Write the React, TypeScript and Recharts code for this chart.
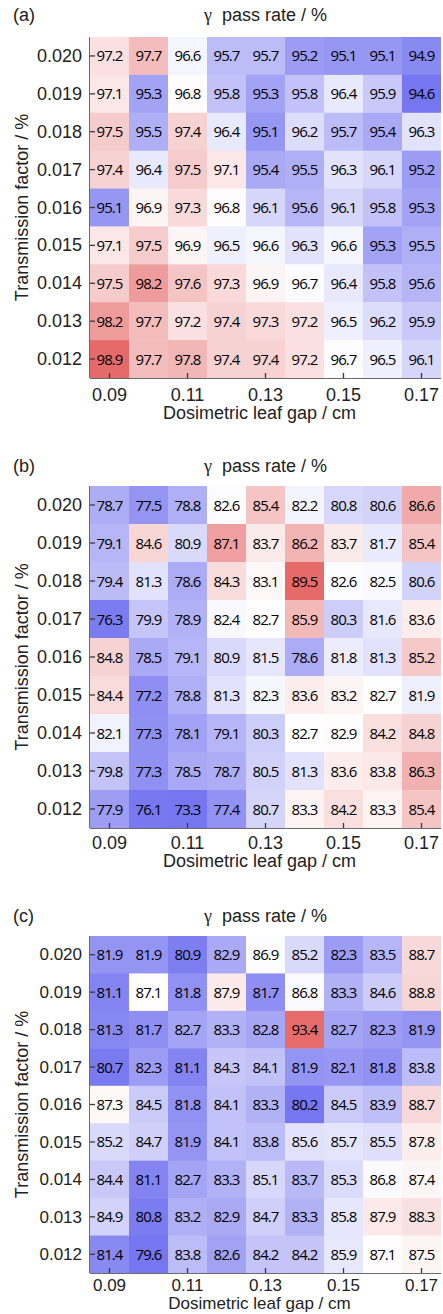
import { ScatterChart, Scatter, XAxis, YAxis } from "recharts";

const leafGap = [0.09, 0.1, 0.11, 0.12, 0.13, 0.14, 0.15, 0.16, 0.17];
const leafGapTicks = [0.09, 0.11, 0.13, 0.15, 0.17];
const transFactor = [0.02, 0.019, 0.018, 0.017, 0.016, 0.015, 0.014, 0.013, 0.012];

// rows: transmission factor 0.020 -> 0.012, columns: leaf gap 0.09 -> 0.17
const passRateA = [
  [97.2, 97.7, 96.6, 95.7, 95.7, 95.2, 95.1, 95.1, 94.9],
  [97.1, 95.3, 96.8, 95.8, 95.3, 95.8, 96.4, 95.9, 94.6],
  [97.5, 95.5, 97.4, 96.4, 95.1, 96.2, 95.7, 95.4, 96.3],
  [97.4, 96.4, 97.5, 97.1, 95.4, 95.5, 96.3, 96.1, 95.2],
  [95.1, 96.9, 97.3, 96.8, 96.1, 95.6, 96.1, 95.8, 95.3],
  [97.1, 97.5, 96.9, 96.5, 96.6, 96.3, 96.6, 95.3, 95.5],
  [97.5, 98.2, 97.6, 97.3, 96.9, 96.7, 96.4, 95.8, 95.6],
  [98.2, 97.7, 97.2, 97.4, 97.3, 97.2, 96.5, 96.2, 95.9],
  [98.9, 97.7, 97.8, 97.4, 97.4, 97.2, 96.7, 96.5, 96.1],
];

const passRateB = [
  [78.7, 77.5, 78.8, 82.6, 85.4, 82.2, 80.8, 80.6, 86.6],
  [79.1, 84.6, 80.9, 87.1, 83.7, 86.2, 83.7, 81.7, 85.4],
  [79.4, 81.3, 78.6, 84.3, 83.1, 89.5, 82.6, 82.5, 80.6],
  [76.3, 79.9, 78.9, 82.4, 82.7, 85.9, 80.3, 81.6, 83.6],
  [84.8, 78.5, 79.1, 80.9, 81.5, 78.6, 81.8, 81.3, 85.2],
  [84.4, 77.2, 78.8, 81.3, 82.3, 83.6, 83.2, 82.7, 81.9],
  [82.1, 77.3, 78.1, 79.1, 80.3, 82.7, 82.9, 84.2, 84.8],
  [79.8, 77.3, 78.5, 78.7, 80.5, 81.3, 83.6, 83.8, 86.3],
  [77.9, 76.1, 73.3, 77.4, 80.7, 83.3, 84.2, 83.3, 85.4],
];

const passRateC = [
  [81.9, 81.9, 80.9, 82.9, 86.9, 85.2, 82.3, 83.5, 88.7],
  [81.1, 87.1, 81.8, 87.9, 81.7, 86.8, 83.3, 84.6, 88.8],
  [81.3, 81.7, 82.7, 83.3, 82.8, 93.4, 82.7, 82.3, 81.9],
  [80.7, 82.3, 81.1, 84.3, 84.1, 81.9, 82.1, 81.8, 83.8],
  [87.3, 84.5, 81.8, 84.1, 83.3, 80.2, 84.5, 83.9, 88.7],
  [85.2, 84.7, 81.9, 84.1, 83.8, 85.6, 85.7, 85.5, 87.8],
  [84.4, 81.1, 82.7, 83.3, 85.1, 83.7, 85.3, 86.8, 87.4],
  [84.9, 80.8, 83.2, 82.9, 84.7, 83.3, 85.8, 87.9, 88.3],
  [81.4, 79.6, 83.8, 82.6, 84.2, 84.2, 85.9, 87.1, 87.5],
];

const W = 443;
const TOP = 37;
const LEFT = 90;
const RIGHT = 2;
const AXIS = "#3a3a3a";
const SANS = "'Liberation Sans', Arial, sans-serif";

const BLUE = [118, 118, 240];
const RED = [230, 106, 106];

function cellColor(v: number, center: number, half: number) {
  let t = (v - center) / half;
  t = Math.max(-1, Math.min(1, t));
  const end = t < 0 ? BLUE : RED;
  const a = Math.abs(t);
  const c = end.map((e) => Math.round(255 + (e - 255) * a));
  return `rgb(${c[0]},${c[1]},${c[2]})`;
}

function toPoints(grid: number[][]) {
  const pts: { x: number; y: number; v: number }[] = [];
  grid.forEach((row, i) =>
    row.forEach((v, j) => pts.push({ x: leafGap[j], y: transFactor[i], v }))
  );
  return pts;
}

const makeYTick = (fs: number) => (props: any) => {
  const { x, y, payload } = props;
  return (
    <g>
      <text
        x={x}
        y={y}
        dy={fs / 3}
        textAnchor="end"
        fontSize={fs}
        fontFamily={SANS}
        fill="#222"
      >
        {payload.value.toFixed(3)}
      </text>
      <line x1={x + 8} x2={x + 13} y1={y} y2={y} stroke={AXIS} strokeWidth={1.3} />
    </g>
  );
};

const makeXTick = (dy: number, fs: number) => (props: any) => {
  const { x, y, payload } = props;
  return (
    <g>
      <text
        x={x}
        y={y}
        dy={dy}
        textAnchor="middle"
        fontSize={fs}
        fontFamily={SANS}
        fill="#222"
      >
        {payload.value.toFixed(2)}
      </text>
      <line x1={x} x2={x} y1={y - 8} y2={y - 13} stroke={AXIS} strokeWidth={1.3} />
    </g>
  );
};

interface PanelProps {
  tag: string;
  grid: number[][];
  center: number;
  half: number;
  plotTop: number;
  plotH: number;
  tickDy: number;
  titleDy: number;
  titleTop: number;
  fs: number;
}

function Panel({
  tag,
  grid,
  center,
  half,
  plotTop,
  plotH,
  tickDy,
  titleDy,
  titleTop,
  fs,
}: PanelProps) {
  const data = toPoints(grid);
  const H = 440;
  const top = plotTop - TOP;
  const cellW = (W - LEFT - RIGHT) / leafGap.length;
  const cellH = plotH / transFactor.length;
  const XTick = makeXTick(tickDy, fs);
  const YTick = makeYTick(fs);
  const Cell = (props: any) => {
    const { cx, cy, payload } = props;
    return (
      <g>
        <rect
          x={cx - cellW / 2}
          y={cy - cellH / 2}
          width={cellW + 0.5}
          height={cellH + 0.5}
          fill={cellColor(payload.v, center, half)}
        />
        <text
          x={cx}
          y={cy}
          dy={5.5}
          textAnchor="middle"
          fontSize={15}
          letterSpacing={-0.9}
          fontFamily="'Open Sans', sans-serif"
          fill="#000"
        >
          {payload.v.toFixed(1)}
        </text>
      </g>
    );
  };

  return (
    <div style={{ position: "absolute", left: 0, top, width: W, height: H }}>
      <div
        style={{
          position: "absolute",
          left: 13,
          top: titleTop,
          fontFamily: SANS,
          fontSize: 18,
          color: "#222",
        }}
      >
        ({tag})
      </div>
      <div
        style={{
          position: "absolute",
          left: LEFT,
          width: W - LEFT - RIGHT,
          top: titleTop,
          textAlign: "center",
          fontFamily: SANS,
          fontSize: 18,
          color: "#222",
          whiteSpace: "pre",
        }}
      >
        <span style={{ fontFamily: "'Liberation Serif', serif" }}>γ</span>
        {"  pass rate / %"}
      </div>
      <ScatterChart
        width={W}
        height={H}
        margin={{ top: TOP, right: RIGHT, bottom: 0, left: 0 }}
      >
        <Scatter data={data} shape={Cell} isAnimationActive={false} />
        <XAxis
          type="number"
          dataKey="x"
          domain={[0.085, 0.175]}
          ticks={leafGapTicks}
          height={H - TOP - plotH}
          tickSize={0}
          tickMargin={8}
          tickLine={false}
          axisLine={{ stroke: AXIS, strokeWidth: 1.5 }}
          tick={<XTick />}
          interval={0}
          allowDataOverflow
          label={{
            content: (p: any) => (
              <text
                x={p.viewBox.x + p.viewBox.width / 2 - 6}
                y={p.viewBox.y + titleDy}
                textAnchor="middle"
                fontSize={fs}
                fontFamily={SANS}
                fill="#222"
              >
                Dosimetric leaf gap / cm
              </text>
            ),
          }}
        />
        <XAxis
          xAxisId="top"
          orientation="top"
          type="number"
          dataKey="x"
          domain={[0.085, 0.175]}
          height={0}
          tick={false}
          tickLine={false}
          axisLine={{ stroke: AXIS, strokeWidth: 1.5 }}
        />
        <YAxis
          type="number"
          dataKey="y"
          domain={[0.0115, 0.0205]}
          ticks={transFactor}
          width={LEFT}
          tickSize={0}
          tickMargin={8}
          tickLine={false}
          axisLine={{ stroke: AXIS, strokeWidth: 1.5 }}
          tick={<YTick />}
          interval={0}
          allowDataOverflow
          label={{
            content: () => {
              const cy = TOP + plotH / 2;
              return (
                <text
                  x={22}
                  y={cy}
                  transform={`rotate(-90 22 ${cy})`}
                  textAnchor="middle"
                  dominantBaseline="central"
                  fontSize={18}
                  fontFamily={SANS}
                  fill="#222"
                >
                  Transmission factor / %
                </text>
              );
            },
          }}
        />
      </ScatterChart>
    </div>
  );
}

export default function App() {
  return (
    <div
      style={{
        position: "absolute",
        left: 0,
        top: 0,
        width: W,
        height: 1314,
        overflow: "hidden",
        background: "#fff",
      }}
    >
      <Panel
        tag="a"
        grid={passRateA}
        center={96.75}
        half={2.15}
        plotTop={37}
        plotH={341}
        tickDy={15}
        titleDy={41}
        titleTop={5}
        fs={18}
      />
      <Panel
        tag="b"
        grid={passRateB}
        center={82.75}
        half={6.75}
        plotTop={486}
        plotH={342}
        tickDy={13}
        titleDy={39}
        titleTop={7}
        fs={18}
      />
      <Panel
        tag="c"
        grid={passRateC}
        center={87}
        half={6.5}
        plotTop={936}
        plotH={337}
        tickDy={10}
        titleDy={36}
        titleTop={7}
        fs={17}
      />
    </div>
  );
}
